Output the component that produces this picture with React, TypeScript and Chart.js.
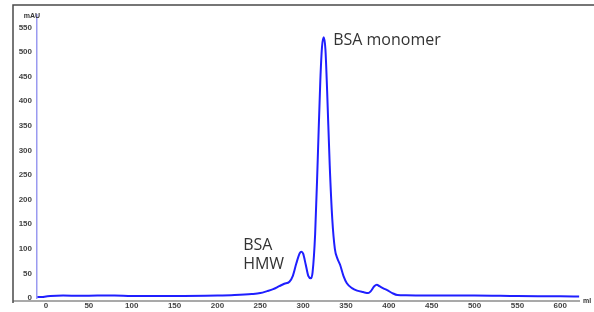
import React, { useEffect, useRef } from "react";
import { Chart, registerables } from "chart.js";

Chart.register(...registerables);

const volumeMl = [
  -10, -5, 0, 5, 20, 40, 60, 80, 100, 150, 200, 220, 240, 250, 258, 265, 272, 278, 284, 288, 292, 296, 298,
  300, 303, 306, 309, 311, 314, 317, 320, 322, 324, 326, 328, 331, 334, 337, 340, 343, 347, 351, 357, 363,
  370, 376, 379, 383, 386, 389, 393, 398, 404, 410, 420, 450, 500, 550, 600, 622,
];
const absorbanceMAU = [
  2, 2, 3, 4, 5, 4.5, 5, 5, 4, 4, 5, 6, 8, 10, 14, 18, 24, 29, 33, 45, 70, 91, 94,
  90, 68, 45, 40, 52, 130, 280, 440, 510, 530, 505, 420, 270, 160, 100, 80, 68, 45, 30, 20, 15,
  12, 10, 14, 24, 27, 24, 20, 16, 10, 6, 5.5, 5, 5, 4, 3.5, 3,
];
const xTickValues = [0, 50, 100, 150, 200, 250, 300, 350, 400, 450, 500, 550, 600];
const yTickValues = [0, 50, 100, 150, 200, 250, 300, 350, 400, 450, 500, 550];
const annotationTexts = ["BSA monomer", "BSA", "HMW"];
const annotationX = [335, 230, 230];
const annotationY = [514, 97, 58];

export default function App() {
  const ref = useRef<HTMLCanvasElement | null>(null);

  useEffect(() => {
    if (!ref.current) return;
    const decor = {
      id: "decor",
      afterDraw(chart: any) {
        const ctx = chart.ctx;
        const xs = chart.scales.x;
        const ys = chart.scales.y;
        const area = chart.chartArea;
        ctx.save();
        // frame
        ctx.strokeStyle = "#4a4a4a";
        ctx.lineWidth = 1.5;
        ctx.beginPath();
        ctx.moveTo(13, 303);
        ctx.lineTo(13, 5);
        ctx.lineTo(594, 5);
        ctx.stroke();
        // x axis line
        ctx.strokeStyle = "#555";
        ctx.lineWidth = 1.2;
        ctx.beginPath();
        ctx.moveTo(13, 301);
        ctx.lineTo(area.right, 301);
        ctx.stroke();
        // unit labels
        ctx.fillStyle = "#333";
        ctx.font = "bold 7px 'Liberation Sans', Arial, sans-serif";
        ctx.textAlign = "center";
        ctx.textBaseline = "middle";
        ctx.fillText("mAU", 32, 16);
        ctx.textAlign = "left";
        ctx.fillText("ml", area.right + 3, 301);
        // annotations
        ctx.fillStyle = "#333";
        ctx.font = "16px 'Open Sans', sans-serif";
        ctx.textBaseline = "alphabetic";
        for (let i = 0; i < annotationTexts.length; i++) {
          ctx.fillText(
            annotationTexts[i],
            xs.getPixelForValue(annotationX[i]),
            ys.getPixelForValue(annotationY[i])
          );
        }
        ctx.restore();
      },
    };

    const chart = new Chart(ref.current, {
      type: "line",
      data: {
        datasets: [
          {
            data: volumeMl.map((v, i) => ({ x: v, y: absorbanceMAU[i] })),
            borderColor: "#1f1fff",
            borderWidth: 2,
            pointRadius: 0,
            fill: false,
            cubicInterpolationMode: "monotone",
          },
        ],
      },
      options: {
        responsive: false,
        animation: false,
        layout: { padding: { left: 13, top: 15, right: 14, bottom: 0 } },
        plugins: { legend: { display: false }, tooltip: { enabled: false } },
        scales: {
          x: {
            type: "linear",
            min: -10.5,
            max: 623,
            afterFit: (s: any) => {
              s.height = 14;
            },
            afterBuildTicks: (s: any) => {
              s.ticks = xTickValues.map((v) => ({ value: v }));
            },
            ticks: {
              includeBounds: false,
              padding: 3,
              color: "#444",
              font: { size: 8, weight: "bold", family: "'Liberation Sans', Arial, sans-serif" },
              maxRotation: 0,
              autoSkip: false,
            },
            grid: { display: false, drawTicks: false },
            border: { display: false },
          },
          y: {
            type: "linear",
            min: 0,
            max: 575,
            afterFit: (s: any) => {
              s.width = 24;
            },
            afterBuildTicks: (s: any) => {
              s.ticks = yTickValues.map((v) => ({ value: v }));
            },
            ticks: {
              includeBounds: false,
              padding: 5,
              color: "#444",
              font: { size: 8, weight: "bold", family: "'Liberation Sans', Arial, sans-serif" },
              autoSkip: false,
            },
            grid: { display: false, drawTicks: false },
            border: { display: true, color: "#9a9af0", width: 1.5 },
          },
        },
      },
      plugins: [decor],
    });
    return () => chart.destroy();
  }, []);

  return (
    <div style={{ position: "absolute", left: 0, top: 0, width: 594, height: 312, background: "#fff" }}>
      <canvas ref={ref} width={594} height={312} />
    </div>
  );
}
